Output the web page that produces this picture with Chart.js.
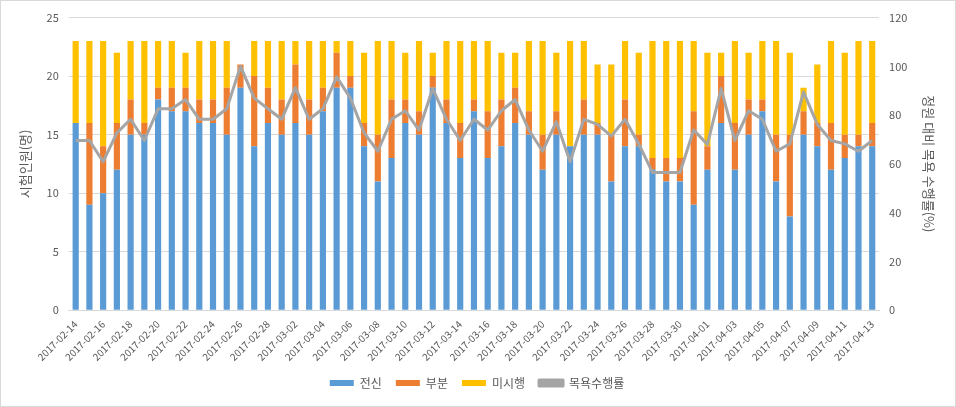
<!DOCTYPE html>
<html>
<head>
<meta charset="utf-8">
<script src="https://cdn.jsdelivr.net/npm/chart.js@4"></script>
<style>
html, body { margin: 0; padding: 0; background: #fff; }
#wrap { width: 954px; height: 405px; border: 1px solid #d9d9d9; }
</style>
</head>
<body>
<div id="wrap"><canvas id="bathChart" width="954" height="405"></canvas></div>
<script>
// 날짜 (2017-02-14 ~ 2017-04-13)
const dates = [
    '2017-02-14','2017-02-15','2017-02-16','2017-02-17','2017-02-18','2017-02-19','2017-02-20',
    '2017-02-21','2017-02-22','2017-02-23','2017-02-24','2017-02-25','2017-02-26','2017-02-27',
    '2017-02-28','2017-03-01','2017-03-02','2017-03-03','2017-03-04','2017-03-05','2017-03-06',
    '2017-03-07','2017-03-08','2017-03-09','2017-03-10','2017-03-11','2017-03-12','2017-03-13',
    '2017-03-14','2017-03-15','2017-03-16','2017-03-17','2017-03-18','2017-03-19','2017-03-20',
    '2017-03-21','2017-03-22','2017-03-23','2017-03-24','2017-03-25','2017-03-26','2017-03-27',
    '2017-03-28','2017-03-29','2017-03-30','2017-03-31','2017-04-01','2017-04-02','2017-04-03',
    '2017-04-04','2017-04-05','2017-04-06','2017-04-07','2017-04-08','2017-04-09','2017-04-10',
    '2017-04-11','2017-04-12','2017-04-13'
];
// 전신
const fullBath = [16,9,10,12,15,15,18,17,17,16,16,15,19,14,16,15,16,15,17,19,19,14,11,13,16,15,19,16,13,17,
                  13,14,16,15,12,15,14,15,15,11,14,14,12,11,11,9,12,16,12,15,17,11,8,15,14,12,13,14,14];
// 부분
const partBath = [0,7,4,4,3,1,1,2,2,2,2,4,2,6,3,3,5,3,2,3,1,2,4,5,2,2,1,2,3,1,
                  4,4,3,2,3,2,0,3,1,4,4,1,1,2,2,8,2,4,4,3,1,4,7,2,2,4,2,1,2];
// 미시행
const noBath = [7,7,9,6,5,7,4,4,3,5,5,4,0,3,4,5,2,5,4,1,3,6,8,5,4,6,2,5,7,5,
                6,4,3,6,8,5,9,5,5,6,5,7,10,10,10,6,8,2,7,4,5,8,7,2,5,7,7,8,7];
// 목욕수행률(%)
const bathRate = [69.6,69.6,60.9,72.7,78.3,69.6,82.6,82.6,86.4,78.3,78.3,82.6,100,87.0,82.6,78.3,91.3,78.3,82.6,95.7,
                  87.0,72.7,65.2,78.3,81.8,73.9,90.9,78.3,69.6,78.3,73.9,81.8,86.4,73.9,65.2,77.3,60.9,78.3,76.2,71.4,
                  78.3,68.2,56.5,56.5,56.5,73.9,68.0,90.9,69.6,81.8,78.3,65.2,68.2,89.5,76.2,69.6,68.2,65.2,69.6];

const leftTicks = [0, 5, 10, 15, 20, 25];
const rightTicks = [0, 20, 40, 60, 80, 100, 120];

const fontFamily = "'Noto Sans CJK KR', 'Noto Sans', sans-serif";
const textColor = '#595959';

const ctx = document.getElementById('bathChart').getContext('2d');
const bathChart = new Chart(ctx, {
    type: 'bar',
    data: {
        labels: dates,
        datasets: [
            { label: '전신', data: fullBath, backgroundColor: '#5B9BD5', yAxisID: 'y', stack: 's', order: 1,
              barPercentage: 0.45, categoryPercentage: 1.0 },
            { label: '부분', data: partBath, backgroundColor: '#ED7D31', yAxisID: 'y', stack: 's', order: 1,
              barPercentage: 0.45, categoryPercentage: 1.0 },
            { label: '미시행', data: noBath, backgroundColor: '#FFC000', yAxisID: 'y', stack: 's', order: 1,
              barPercentage: 0.45, categoryPercentage: 1.0 },
            { type: 'line', label: '목욕수행률', data: bathRate, yAxisID: 'y1', order: 0,
              borderColor: '#A5A5A5', backgroundColor: '#A5A5A5', borderWidth: 3,
              pointRadius: 0, tension: 0, borderJoinStyle: 'round' }
        ]
    },
    options: {
        responsive: false,
        animation: false,
        layout: { padding: { left: 12, right: 14, top: 3, bottom: 7 } },
        plugins: {
            legend: {
                position: 'bottom',
                labels: {
                    boxWidth: 24,
                    boxHeight: 6,
                    padding: 14,
                    color: textColor,
                    font: { family: fontFamily, size: 12 },
                    sort: (a, b) => a.datasetIndex - b.datasetIndex
                }
            },
            tooltip: { enabled: false }
        },
        scales: {
            x: {
                stacked: true,
                grid: { display: false },
                border: { display: true, color: '#d9d9d9' },
                ticks: {
                    autoSkip: false,
                    minRotation: 45,
                    maxRotation: 45,
                    padding: 0,
                    color: textColor,
                    font: { family: fontFamily, size: 10 },
                    callback: function(value, index) {
                        return index % 2 === 0 ? dates[index] : '';
                    }
                }
            },
            y: {
                stacked: true,
                position: 'left',
                min: 0,
                max: 25,
                afterBuildTicks: axis => { axis.ticks = leftTicks.map(v => ({ value: v })); },
                grid: { color: '#d9d9d9', drawTicks: false },
                border: { display: false },
                ticks: { color: textColor, padding: 10, font: { family: fontFamily, size: 11 } },
                title: { display: true, text: '시험인원(명)', color: textColor,
                         font: { family: fontFamily, size: 13 } }
            },
            y1: {
                position: 'right',
                min: 0,
                max: 120,
                afterBuildTicks: axis => { axis.ticks = rightTicks.map(v => ({ value: v })); },
                grid: { display: false, drawTicks: false },
                border: { display: false },
                ticks: { color: textColor, padding: 10, font: { family: fontFamily, size: 11 } },
                title: { display: true, text: '정원 대비 목욕 수행률(%)', color: textColor,
                         font: { family: fontFamily, size: 13 } }
            }
        }
    }
});
</script>
</body>
</html>
